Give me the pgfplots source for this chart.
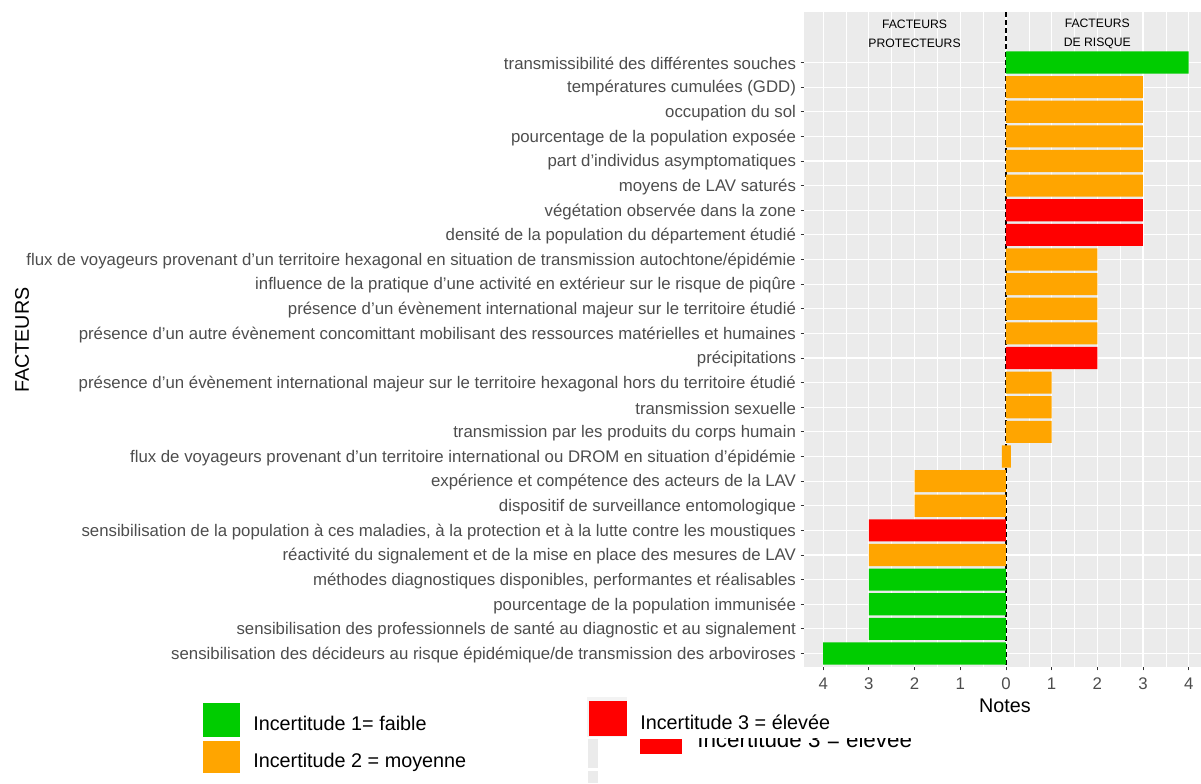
\documentclass[border=0pt]{standalone}
\usepackage{pgfplots}
\pgfplotsset{compat=1.18}
\usepackage{fontspec}
\setmainfont{Liberation Sans}
\definecolor{ggbg}{HTML}{EBEBEB}
\definecolor{gggreen}{HTML}{00CC00}
\definecolor{ggorange}{HTML}{FFA500}
\definecolor{ggred}{HTML}{FF0000}
\definecolor{ggtext}{HTML}{4D4D4D}
\definecolor{ggtick}{HTML}{333333}
\begin{document}
\begin{tikzpicture}
\useasboundingbox (0,0) rectangle (900.75pt,-587.25pt);
\begin{axis}[
  at={(603pt,-500.25pt)}, anchor=south west,
  scale only axis, width=297.75pt, height=491.25pt,
  xmin=-4.42, xmax=4.27, ymin=-2.05, ymax=24.55,
  y dir=reverse,
  xbar, bar width=0.9, bar shift=0pt,
  axis background/.style={fill=ggbg},
  axis line style={draw=none},
  xtick={-4,...,4}, xticklabels={4,3,2,1,0,1,2,3,4},
  minor x tick num=1,
  ytick={0,...,24},
  yticklabels={
    transmissibilité des différentes souches,
    températures cumulées (GDD),
    occupation du sol,
    pourcentage de la population exposée,
    part d'individus asymptomatiques,
    moyens de LAV saturés,
    végétation observée dans la zone,
    densité de la population du département étudié,
    flux de voyageurs provenant d'un territoire hexagonal en situation de transmission autochtone/épidémie,
    influence de la pratique d'une activité en extérieur sur le risque de piqûre,
    présence d'un évènement international majeur sur le territoire étudié,
    présence d'un autre évènement concomittant mobilisant des ressources matérielles et humaines,
    précipitations,
    présence d'un évènement international majeur sur le territoire hexagonal hors du territoire étudié,
    transmission sexuelle,
    transmission par les produits du corps humain,
    flux de voyageurs provenant d'un territoire international ou DROM en situation d'épidémie,
    expérience et compétence des acteurs de la LAV,
    dispositif de surveillance entomologique,
    {sensibilisation de la population à ces maladies, à la protection et à la lutte contre les moustiques},
    réactivité du signalement et de la mise en place des mesures de LAV,
    {méthodes diagnostiques disponibles, performantes et réalisables},
    pourcentage de la population immunisée,
    sensibilisation des professionnels de santé au diagnostic et au signalement,
    sensibilisation des décideurs au risque épidémique/de transmission des arboviroses},
  grid=both,
  major grid style={white, line width=0.85pt},
  minor grid style={white, line width=0.4pt},
  tick align=outside, tick pos=left,
  major tick length=2.5pt, minor tick length=0pt,
  tick style={ggtick, line width=0.6pt},
  ticklabel style={font=\fontsize{12.6}{14}\selectfont, text=ggtext},
  xticklabel style={yshift=-2pt},
  yticklabel style={yshift=-1pt},
]
\draw[black, line width=0.9pt, dash pattern=on 3.5pt off 2.5pt] (axis cs:0,-2.05) -- (axis cs:0,24.55);
\addplot[fill=gggreen, draw=none] coordinates {(4,0) (-3,21) (-3,22) (-3,23) (-4,24)};
\addplot[fill=ggorange, draw=none] coordinates {(3,1) (3,2) (3,3) (3,4) (3,5) (2,8) (2,9) (2,10) (2,11) (1,13) (1,14) (1,15) (0.11,16) (-0.09,16) (-2,17) (-2,18) (-3,20)};
\addplot[fill=ggred, draw=none] coordinates {(3,6) (3,7) (2,12) (-3,19)};
\node[align=center, font=\fontsize{9.15}{14.25}\selectfont] at (axis cs:-2,-1.15) {FACTEURS\\PROTECTEURS};
\node[align=center, font=\fontsize{9.15}{14.25}\selectfont] at (axis cs:2,-1.15) {FACTEURS\\DE RISQUE};
\end{axis}
\begin{scope}[x=0.75pt,y=-0.75pt]
\node[rotate=90, font=\fontsize{14.8}{16}\selectfont] at (22,340) {FACTEURS};
\node[font=\fontsize{14.8}{16}\selectfont] at (1005,706) {Notes};
% ghost legend entry (as in the reference)
\fill[ggred] (640,739) rectangle (682,754);
\node[anchor=base west, inner sep=0, font=\fontsize{16.8}{18}\selectfont] at (697,747) {Incertitude 3 = élevée};
\fill[white] (630,690) rectangle (960,737.5);
\fill[ggbg] (588,739) rectangle (598,768);
\fill[ggbg] (588,771) rectangle (598,783);
\fill[ggbg!60!white] (587,697) rectangle (627,737);
\fill[ggred] (589,701) rectangle (627,736);
\node[anchor=west, inner sep=0, font=\fontsize{14.85}{16}\selectfont] at (640,722) {Incertitude 3 = élevée};
\fill[gggreen] (203,703) rectangle (240,737);
\fill[ggorange] (203,741) rectangle (240,773);
\node[anchor=west, inner sep=0, font=\fontsize{14.85}{16}\selectfont] at (253,723) {Incertitude 1= faible};
\node[anchor=west, inner sep=0, font=\fontsize{14.85}{16}\selectfont] at (253,762) {Incertitude 2 = moyenne};
\end{scope}
\end{tikzpicture}
\end{document}
